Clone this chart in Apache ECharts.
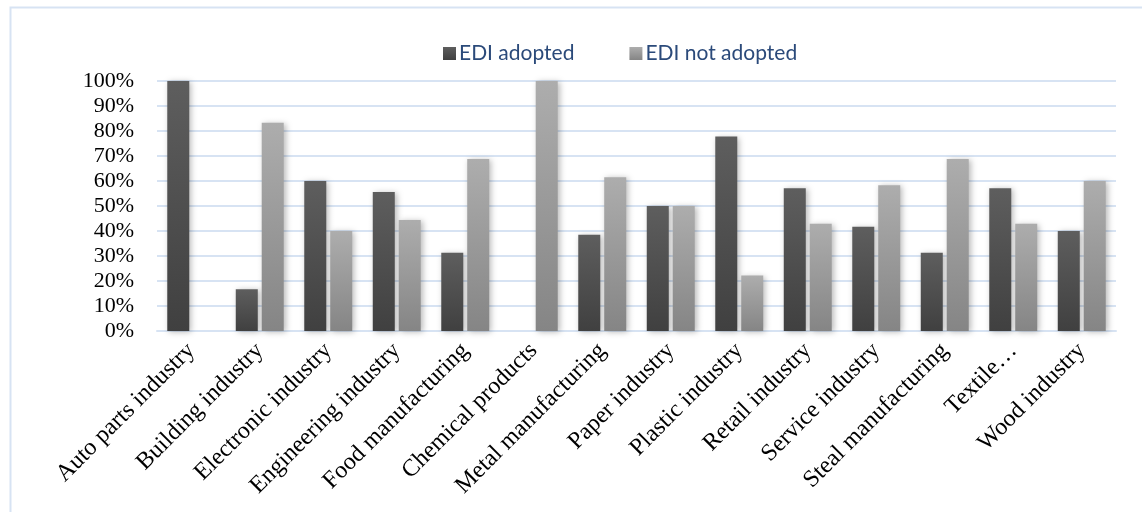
<!DOCTYPE html>
<html>
<head>
<meta charset="utf-8">
<script src="https://cdn.jsdelivr.net/npm/echarts@6/dist/echarts.min.js"></script>
<style>
  html, body { margin: 0; padding: 0; background: #ffffff; }
  #chart { width: 1142px; height: 512px; }
</style>
</head>
<body>
<div id="chart"></div>
<script>
// Industries on the category axis
const categories = [
  'Auto parts industry', 'Building industry', 'Electronic industry',
  'Engineering industry', 'Food manufacturing', 'Chemical products',
  'Metal manufacturing', 'Paper industry', 'Plastic industry',
  'Retail industry', 'Service industry', 'Steal manufacturing',
  'Textile…', 'Wood industry'
];

// Share of firms (%) per industry
const ediAdopted    = [100, 16.7, 60, 55.6, 31.3, 0, 38.5, 50, 77.8, 57.1, 41.7, 31.3, 57.1, 40];
const ediNotAdopted = [0, 83.3, 40, 44.4, 68.8, 100, 61.5, 50, 22.2, 42.9, 58.3, 68.8, 42.9, 60];

const seriesNames = ['EDI adopted', 'EDI not adopted'];

const chart = echarts.init(document.getElementById('chart'), null, { renderer: 'canvas' });

function vGrad(top, bottom) {
  return new echarts.graphic.LinearGradient(0, 0, 0, 1, [
    { offset: 0, color: top },
    { offset: 1, color: bottom }
  ]);
}

const barShadow = {
  shadowBlur: 6,
  shadowColor: 'rgba(0,0,0,0.28)',
  shadowOffsetX: 2,
  shadowOffsetY: 1
};

chart.setOption({
  animation: false,
  backgroundColor: '#ffffff',
  graphic: [{
    type: 'rect',
    left: 8, top: 5,
    shape: { width: 1200, height: 600 },
    style: { fill: 'none', stroke: '#d7e3f3', lineWidth: 2 },
    silent: true
  }],
  legend: {
    top: 38,
    left: 438,
    itemWidth: 13,
    itemHeight: 13,
    itemGap: 55,
    icon: 'rect',
    textStyle: { fontFamily: 'Lato', fontSize: 21, color: '#2b4a7a', padding: [0, 0, 0, -2] },
    data: seriesNames
  },
  grid: { left: 157, right: 26, top: 81, bottom: 181 },
  xAxis: {
    type: 'category',
    data: categories,
    axisLine: { show: true, lineStyle: { color: '#d7e3f3', width: 2 } },
    axisTick: { show: false },
    axisLabel: {
      interval: 0,
      rotate: 45,
      margin: 16,
      fontFamily: 'Liberation Serif',
      fontSize: 24,
      color: '#000000'
    }
  },
  yAxis: {
    type: 'value',
    min: 0,
    max: 100,
    interval: 10,
    axisLine: { show: false },
    axisTick: { show: false },
    splitLine: { lineStyle: { color: '#d7e3f3', width: 2 } },
    axisLabel: {
      margin: 23,
      fontFamily: 'Liberation Serif',
      fontSize: 22,
      color: '#000000',
      formatter: '{value}%'
    }
  },
  series: [
    {
      name: seriesNames[0],
      type: 'bar',
      data: ediAdopted,
      barWidth: 22,
      barGap: '18%',
      itemStyle: Object.assign({ color: vGrad('#5e5e5e', '#404040') }, barShadow)
    },
    {
      name: seriesNames[1],
      type: 'bar',
      data: ediNotAdopted,
      barWidth: 22,
      barGap: '18%',
      itemStyle: Object.assign({ color: vGrad('#adadad', '#858585') }, barShadow)
    }
  ]
});
</script>
</body>
</html>
